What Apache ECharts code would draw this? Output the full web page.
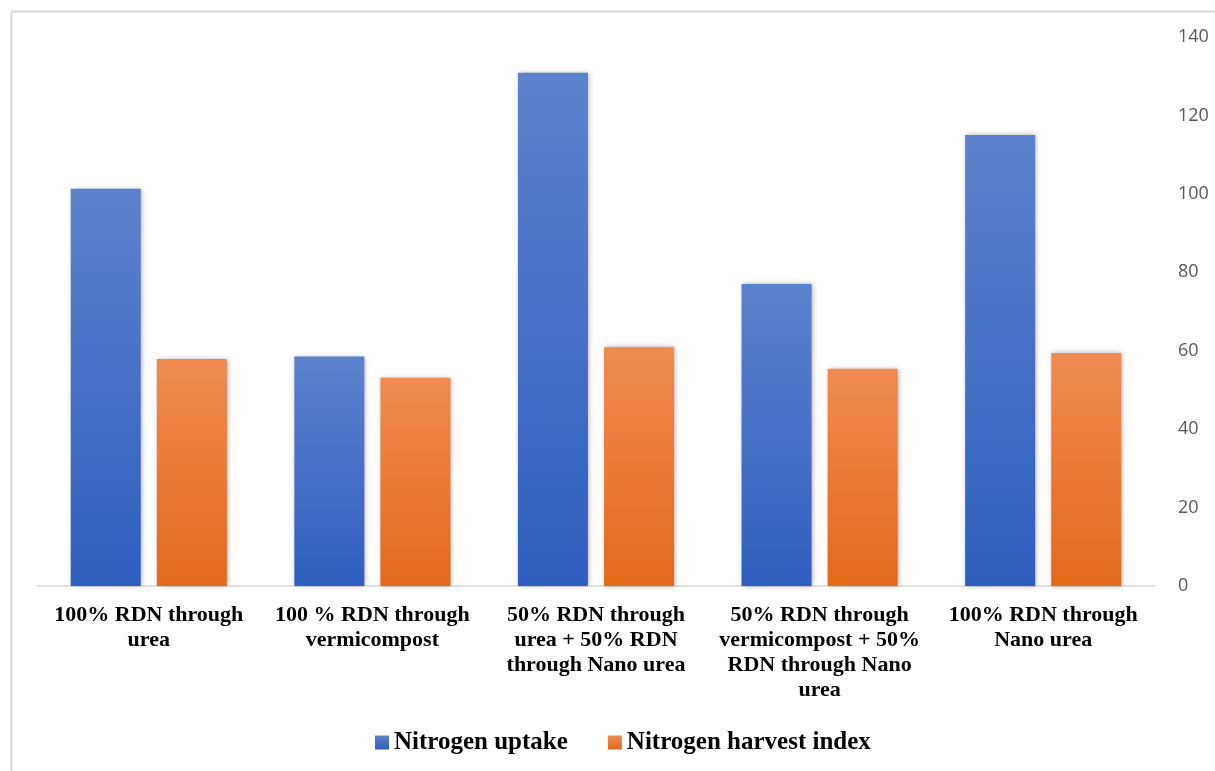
<!DOCTYPE html>
<html>
<head>
<meta charset="utf-8">
<script src="https://cdn.jsdelivr.net/npm/echarts@6/dist/echarts.min.js"></script>
<style>
  html, body { margin: 0; padding: 0; background: #ffffff; }
  #chart { width: 1215px; height: 771px; }
</style>
</head>
<body>
<div id="chart"></div>
<script>
// Treatments (x categories)
const categories = [
  '100% RDN through\nurea',
  '100 % RDN through\nvermicompost',
  '50% RDN through\nurea + 50% RDN\nthrough Nano urea',
  '50% RDN through\nvermicompost + 50%\nRDN through Nano\nurea',
  '100% RDN through\nNano urea'
];

// Series values
const nitrogenUptake = [101.3, 58.5, 130.9, 77.0, 115.0];
const nitrogenHarvestIndex = [57.9, 53.1, 60.9, 55.4, 59.4];

// Value axis ticks
const yMin = 0;
const yMax = 140;
const yStep = 20;

const serif = '"Liberation Serif", "Times New Roman", serif';

function grad(top, bottom) {
  return new echarts.graphic.LinearGradient(0, 0, 0, 1, [
    { offset: 0, color: top },
    { offset: 1, color: bottom }
  ]);
}

const barShadow = {
  shadowColor: 'rgba(0,0,0,0.35)',
  shadowBlur: 5,
  shadowOffsetX: 1,
  shadowOffsetY: 0
};

const chart = echarts.init(document.getElementById('chart'), null, { renderer: 'canvas' });

chart.setOption({
  backgroundColor: '#ffffff',
  animation: false,
  graphic: [{
    type: 'rect',
    left: 9,
    top: 9,
    shape: { width: 1400, height: 1000 },
    style: { fill: 'none', stroke: '#d9d9d9', lineWidth: 2 },
    silent: true,
    z: -10
  }],
  grid: {
    left: 37,
    right: 60,
    top: 37,
    bottom: 185,
    containLabel: false
  },
  legend: {
    left: 370,
    top: 725,
    icon: 'rect',
    itemWidth: 14,
    itemHeight: 14,
    itemGap: 40,
    textStyle: {
      fontFamily: serif,
      fontWeight: 'bold',
      fontSize: 25,
      color: '#000000'
    },
    data: ['Nitrogen uptake', 'Nitrogen harvest index']
  },
  xAxis: {
    type: 'category',
    data: categories,
    axisLine: { show: true, lineStyle: { color: '#d9d9d9', width: 1.5 } },
    axisTick: { show: false },
    axisLabel: {
      interval: 0,
      margin: 17,
      fontFamily: serif,
      fontWeight: 'bold',
      fontSize: 22,
      lineHeight: 25,
      color: '#000000',
      align: 'center'
    },
    splitLine: { show: false }
  },
  yAxis: {
    type: 'value',
    position: 'right',
    min: yMin,
    max: yMax,
    interval: yStep,
    axisLine: { show: false },
    axisTick: { show: false },
    splitLine: { show: false },
    axisLabel: {
      margin: 23,
      fontFamily: '"Open Sans", "Noto Sans", sans-serif',
      fontSize: 18,
      color: '#595959'
    }
  },
  series: [
    {
      name: 'Nitrogen uptake',
      type: 'bar',
      data: nitrogenUptake,
      barWidth: 70,
      barGap: '23%',
      itemStyle: Object.assign({ color: grad('#5d82cd', '#2e5fbf') }, barShadow)
    },
    {
      name: 'Nitrogen harvest index',
      type: 'bar',
      data: nitrogenHarvestIndex,
      barWidth: 70,
      itemStyle: Object.assign({ color: grad('#f08b52', '#e4691a') }, barShadow)
    }
  ]
});
</script>
</body>
</html>
